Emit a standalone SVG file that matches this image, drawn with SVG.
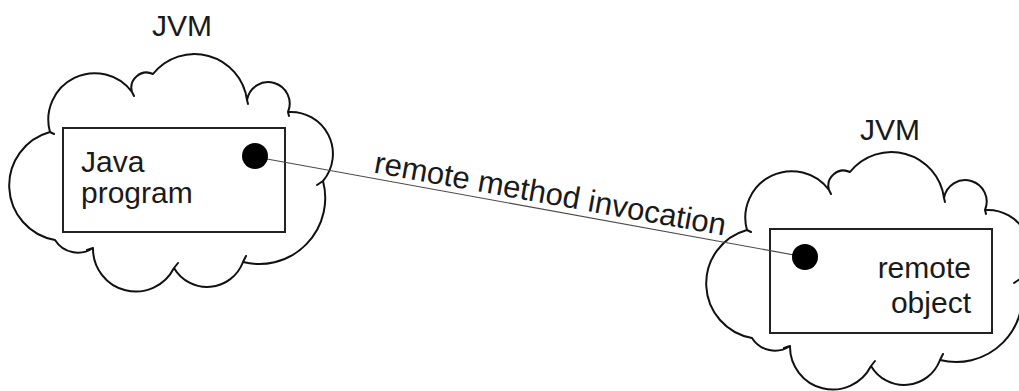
<svg xmlns="http://www.w3.org/2000/svg" xmlns:xlink="http://www.w3.org/1999/xlink" width="1019" height="391" viewBox="0 0 1019 391">
  <style>
    .cloud { fill: #ffffff; stroke: #111111; stroke-width: 2; stroke-linejoin: round; stroke-linecap: round; }
    .box { fill: #ffffff; stroke: #222222; stroke-width: 2; }
    .label { font-family: "Liberation Sans", Arial, Helvetica, sans-serif; font-size: 30px; fill: #1a1a1a; }
    .link { stroke: #4a4a4a; stroke-width: 1.1; fill: none; }
    .port { fill: #000000; }
  </style>
  <defs>
    <!-- cloud outline: circular bumps between notch points, plus small notch ticks -->
    <path id="cloudShape" d="M50,132
      A46.4,46.4 0 0 1 132,92
      A15.2,15.2 0 0 1 153,74
      A53,53 0 0 1 247,100
      A21.5,21.5 0 1 1 288,112
      A42,42 0 0 1 323,181
      A66,66 0 0 1 243,262
      A38.3,38.3 0 0 1 174,268
      A42.8,42.8 0 0 1 93,248
      A27,27 0 0 1 55,240
      A55.4,55.4 0 0 1 50,132 Z
      M50,132 l4,2
      M132,92 l2,4
      M247,100 l1,4
      M288,112 l1,4
      M323,181 l-6,4
      M243,262 l3,-6
      M174,268 l4,-5
      M93,248 l-6,2"/>
  </defs>

  <!-- left JVM -->
  <g id="jvm-left">
    <use xlink:href="#cloudShape" href="#cloudShape" class="cloud"/>
    <text class="label" x="182" y="36" text-anchor="middle">JVM</text>
  </g>

  <!-- right JVM -->
  <g id="jvm-right">
    <use xlink:href="#cloudShape" href="#cloudShape" class="cloud" transform="translate(697,98)"/>
    <text class="label" x="890" y="140" text-anchor="middle">JVM</text>
  </g>

  <!-- client program -->
  <g id="java-program">
    <rect class="box" x="63" y="128" width="222" height="104"/>
    <text class="label" x="81" y="172">Java</text>
    <text class="label" x="81" y="203">program</text>
  </g>

  <!-- server object -->
  <g id="remote-object">
    <rect class="box" x="770" y="229" width="222" height="104"/>
    <text class="label" x="971" y="278" text-anchor="end">remote</text>
    <text class="label" x="971" y="313" text-anchor="end">object</text>
  </g>

  <!-- call link -->
  <g id="connectors">
    <line class="link" x1="256" y1="157" x2="805" y2="257"/>
    <text class="label" style="font-size:31px" x="373" y="172.5" transform="rotate(10.2 373 172.5)">remote method invocation</text>
    <circle class="port" cx="255" cy="156" r="13"/>
    <circle class="port" cx="805" cy="257" r="13"/>
  </g>
</svg>
